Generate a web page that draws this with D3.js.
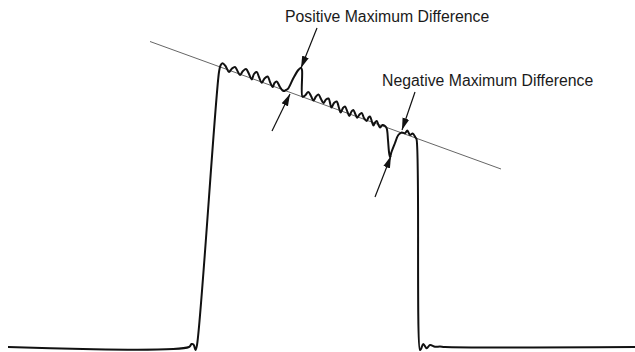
<!DOCTYPE html>
<html>
<head>
<meta charset="utf-8">
<script src="https://cdn.jsdelivr.net/npm/d3@7"></script>
<style>
  body { margin: 0; background: #fff; }
  svg { display: block; }
  .label { font-family: "Liberation Sans", Arial, sans-serif; font-size: 15.8px; fill: #1a1a1a; }
</style>
</head>
<body>
<div class="pulse"></div>
<script>
// time (ns) and amplitude (mV above baseline)
var signalTime = [8, 189, 191.5, 193.5, 195.5, 197, 219, 220.5, 222.5, 225.5, 229, 232, 235, 237.5, 240, 243, 246, 249,
  251.7, 254, 256.7, 259, 261.7, 264.5, 267.7, 270, 272.7, 274.5, 276.7, 280, 283.3, 286, 288.3, 293.3, 298.3, 301,
  302, 302.5, 305, 308.3, 311, 313.5, 316, 318.5, 321, 323.5, 326, 328.5, 331.5, 334, 336.7, 339, 340.7, 343, 345,
  347.5, 349.3, 351.5, 353.3, 355.5, 357.3, 359.5, 361.7, 364, 366.7, 368.5, 370, 372, 373.5, 375, 376.7, 378.5, 380,
  382.5, 385, 386.7, 388, 389, 390, 391.5, 395, 398.3, 401.7, 405, 407.3, 410, 412.7, 415.5, 416.5, 420, 421, 423.3,
  426.7, 430, 435, 440, 445, 635];
var signalValue = [0, 0, 3, 2.5, -3, 2, 275, 281.5, 283.7, 281, 275, 278.5, 280, 276, 272, 276, 278, 273,
  267.5, 273, 275, 270, 264.3, 268.5, 270.5, 265, 260, 264, 265.5, 260, 256, 257, 258.7, 268.7, 277, 279.3,
  277, 250.3, 251.5, 255, 251, 246.5, 250.5, 252.5, 248, 244, 247.5, 248.5, 239.5, 244, 245.5, 239, 234.5, 239, 240.5,
  235, 231, 235.5, 237, 232.5, 229.3, 232.5, 234, 229, 226, 229.5, 230.5, 225, 221.5, 224.5, 226, 222, 219.5,
  222, 221, 218.7, 207, 195, 190, 195, 204, 212, 214.5, 213.7, 216.5, 212, 213.5, 209.5, 208, -3, -2, 3,
  -1.3, 2, 0.3, 0.5, 0, 0];

// droop reference line (two ends)
var droopTime = [150, 501];
var droopValue = [305.5, 178];

// annotation arrows: tail -> tip
var arrowFromTime = [317, 272, 415, 375];
var arrowFromValue = [319, 216, 255, 150];
var arrowToTime = [301, 290, 402, 391];
var arrowToValue = [279, 253, 217, 191];

var labelText = ["Positive Maximum Difference", "Negative Maximum Difference"];
var labelTime = [285, 382];
var labelValue = [325, 261.5];

var width = 635, height = 352;

var svg = d3.select(".pulse").append("svg")
  .attr("width", width)
  .attr("height", height);

var x = d3.scaleLinear().domain([0, 635]).range([0, 635]);
var y = d3.scaleLinear().domain([0, 347]).range([347, 0]);

var signal = signalTime.map(function(t, i) { return [t, signalValue[i]]; });

var line = d3.line()
  .x(function(d) { return x(d[0]); })
  .y(function(d) { return y(d[1]); })
  .curve(d3.curveCatmullRom.alpha(0.5));

svg.append("defs").append("marker")
  .attr("id", "head")
  .attr("viewBox", "0 0 12 8")
  .attr("refX", 12)
  .attr("refY", 4)
  .attr("markerWidth", 12)
  .attr("markerHeight", 8)
  .attr("markerUnits", "userSpaceOnUse")
  .attr("orient", "auto")
  .append("path")
  .attr("d", "M0,0.5 L12,4 L0,7.5 Z")
  .attr("fill", "#111");

// reference line
svg.append("line")
  .attr("x1", x(droopTime[0])).attr("y1", y(droopValue[0]))
  .attr("x2", x(droopTime[1])).attr("y2", y(droopValue[1]))
  .attr("stroke", "#666")
  .attr("stroke-width", 1);

svg.append("path")
  .datum(signal)
  .attr("d", line)
  .attr("fill", "none")
  .attr("stroke", "#111")
  .attr("stroke-width", 2)
  .attr("stroke-linejoin", "round");

svg.selectAll(".arrow")
  .data(arrowFromTime)
  .enter().append("line")
  .attr("class", "arrow")
  .attr("x1", function(d) { return x(d); })
  .attr("y1", function(d, i) { return y(arrowFromValue[i]); })
  .attr("x2", function(d, i) { return x(arrowToTime[i]); })
  .attr("y2", function(d, i) { return y(arrowToValue[i]); })
  .attr("stroke", "#111")
  .attr("stroke-width", 1.2)
  .attr("marker-end", "url(#head)");

svg.selectAll(".label")
  .data(labelText)
  .enter().append("text")
  .attr("class", "label")
  .attr("x", function(d, i) { return x(labelTime[i]); })
  .attr("y", function(d, i) { return y(labelValue[i]); })
  .text(function(d) { return d; });
</script>
</body>
</html>
